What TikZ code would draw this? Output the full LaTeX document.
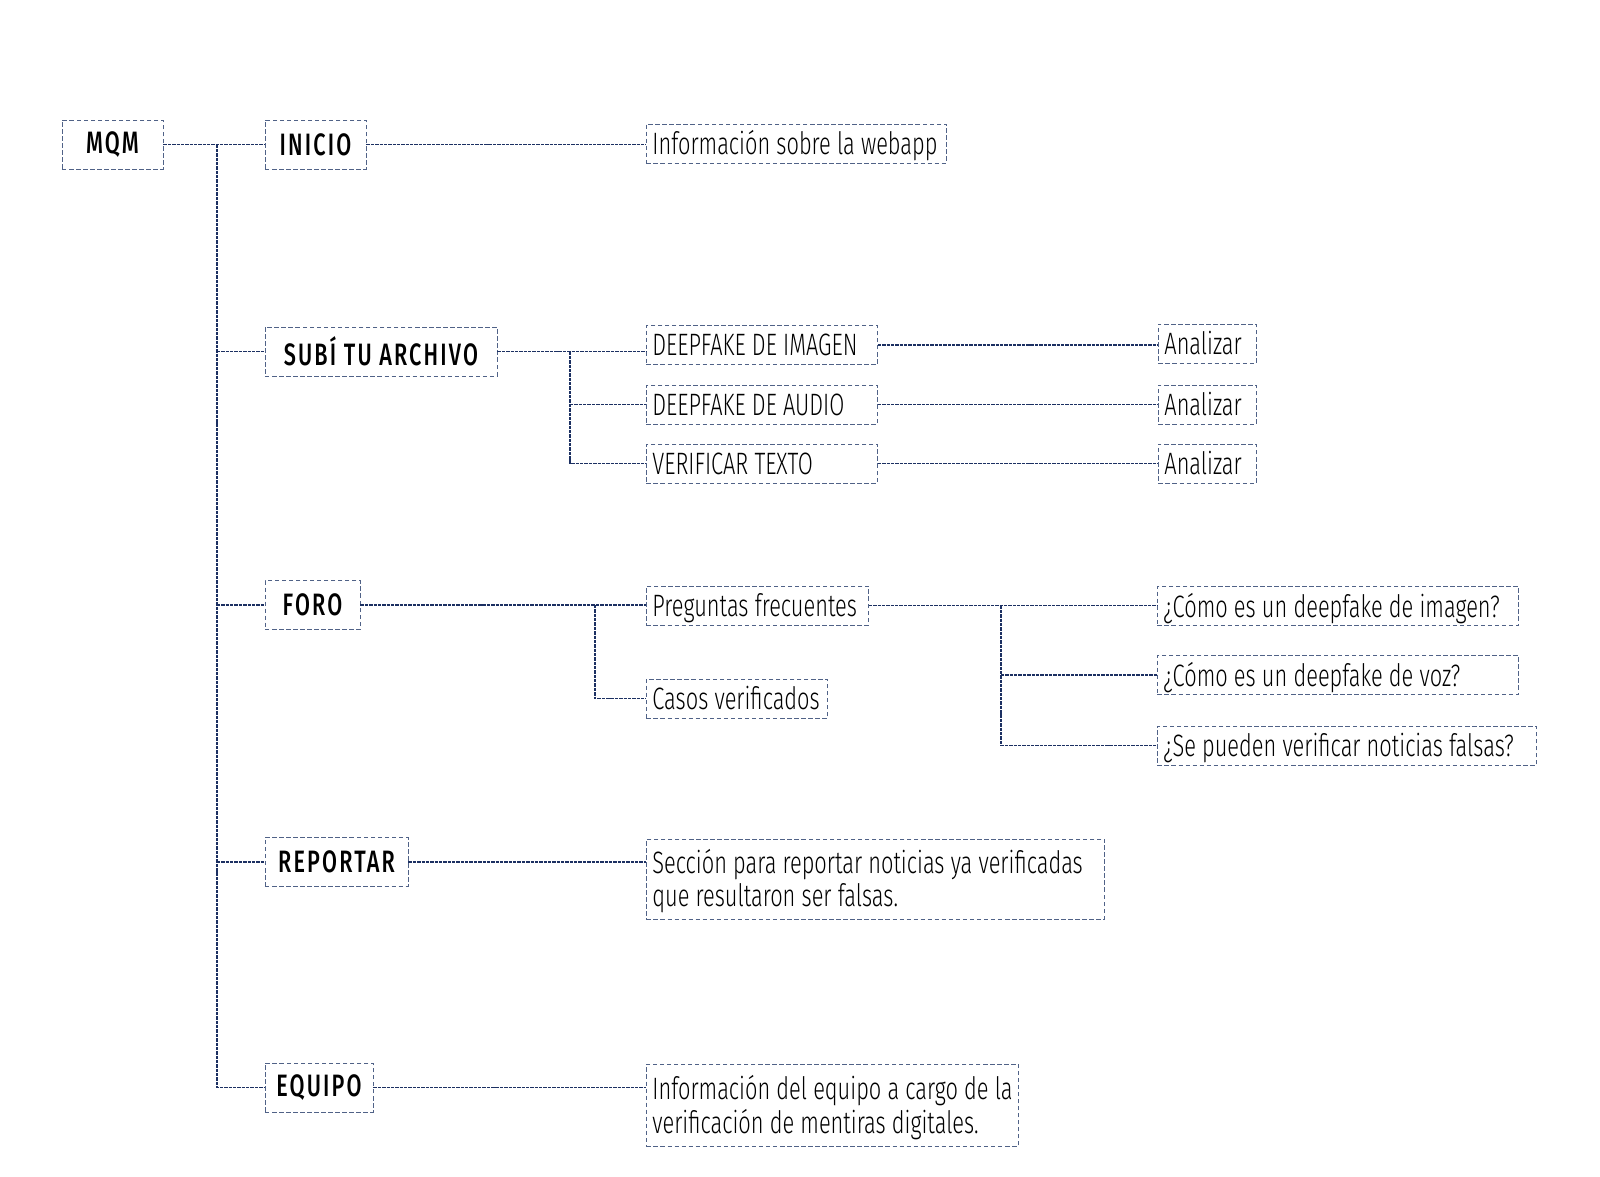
\documentclass[tikz,border=0pt]{standalone}
\usepackage{fontspec}
\setmainfont{Fira Sans Light}[FakeStretch=0.705]
\newfontfamily\topfont{Fira Sans Medium}[FakeStretch=0.7,LetterSpace=7]
\usetikzlibrary{positioning,calc}
\definecolor{boxline}{RGB}{80,98,135}
\definecolor{wire}{RGB}{28,48,98}
\newcommand{\lns}[1]{\spaceskip=4.4pt\relax\raisebox{-2.8pt}[\height][\depth]{\begin{tabular}{@{}l@{}}#1\end{tabular}}}

\begin{document}
\begin{tikzpicture}[x=0.025cm, y=-0.025cm,
    top/.style={draw=boxline, line width=0.6pt, dash pattern=on 3.2pt off 1.8pt, rectangle, minimum height=1.225cm, align=center, inner sep=0pt, font=\topfont\fontsize{22}{24}\selectfont},
    leaf/.style={draw=boxline, line width=0.6pt, dash pattern=on 3.2pt off 1.8pt, rectangle, anchor=west, minimum height=0.975cm, text width=#1, inner xsep=0.15cm, inner ysep=0pt, font=\fontsize{22}{23.5}\selectfont},
    wireline/.style={draw=wire, line width=1.4pt, dash pattern=on 2.4pt off 0.7pt}]
    \useasboundingbox (0,0) rectangle (1600,1177);
    % Root and first level
    \node[top, minimum width=2.525cm] (mqm) at (112.5, 144.5) {MQM};
    \node[top, minimum width=2.525cm] (inicio) at (315.5, 144.5) {INICIO};
    \node[top, minimum width=5.8cm] (subi) at (381, 351.5) {SUBÍ TU ARCHIVO};
    \node[top, minimum width=2.375cm] (foro) at (312.5, 605) {FORO};
    \node[top, minimum width=3.575cm] (reportar) at (336.5, 862) {REPORTAR};
    \node[top, minimum width=2.7cm] (equipo) at (319, 1087.5) {EQUIPO};
    % Inicio
    \node[leaf=7.2cm] (info_web) at (646, 143.5) {\lns{Información sobre la webapp}};
    % Subi tu archivo
    \node[leaf=5.475cm] (df_img) at (646, 345) {\lns{DEEPFAKE DE IMAGEN}};
    \node[leaf=5.475cm] (df_aud) at (646, 404.5) {\lns{DEEPFAKE DE AUDIO}};
    \node[leaf=5.475cm] (ver_txt) at (646, 463.5) {\lns{VERIFICAR TEXTO}};
    \node[leaf=2.15cm] (an_img) at (1158, 343.5) {\lns{Analizar}};
    \node[leaf=2.15cm] (an_aud) at (1158, 404.5) {\lns{Analizar}};
    \node[leaf=2.15cm] (an_txt) at (1158, 463.5) {\lns{Analizar}};
    % Foro
    \node[leaf=5.25cm] (preg) at (646, 605.5) {\lns{Preguntas frecuentes}};
    \node[leaf=4.225cm] (casos) at (646, 698.5) {\lns{Casos verificados}};
    \node[leaf=8.725cm] (q_img) at (1157, 606) {\lns{¿Cómo es un deepfake de imagen?}};
    \node[leaf=8.725cm] (q_voz) at (1157, 675) {\lns{¿Cómo es un deepfake de voz?}};
    \node[leaf=9.175cm] (q_fake) at (1157, 745.5) {\lns{¿Se pueden verificar noticias falsas?}};
    % Reportar y equipo
    \node[leaf=11.15cm, minimum height=2cm] (rep_txt) at (646, 879) {\lns{Sección para reportar noticias ya verificadas\\que resultaron ser falsas.}};
    \node[leaf=9.0cm, minimum height=2.05cm] (eq_txt) at (646, 1105) {\lns{Información del equipo a cargo de la\\verificación de mentiras digitales.}};
    % Junctions
    \coordinate (trunk) at (217, 0);
    \coordinate (j_subi) at (570, 0);
    \coordinate (j_foro) at (595, 0);
    \coordinate (j_preg) at (1001, 0);
    % Connecting lines
    \draw[wireline] (mqm) -- (inicio);
    \draw[wireline] (trunk |- mqm) -- (trunk |- equipo) -- (equipo);
    \draw[wireline] (trunk |- subi) -- (subi);
    \draw[wireline] (trunk |- foro) -- (foro);
    \draw[wireline] (trunk |- reportar) -- (reportar);
    \draw[wireline] (inicio) -- (inicio.east -| info_web.west);
    \draw[wireline] (subi) -- (subi.east -| df_img.west);
    \draw[wireline] (j_subi |- subi) -- (j_subi |- ver_txt) -- (ver_txt);
    \draw[wireline] (j_subi |- df_aud) -- (df_aud);
    \draw[wireline] (df_img) -- (df_img.east -| an_img.west);
    \draw[wireline] (df_aud) -- (an_aud);
    \draw[wireline] (ver_txt) -- (an_txt);
    \draw[wireline] (foro) -- (foro.east -| preg.west);
    \draw[wireline] (j_foro |- foro) -- (j_foro |- casos) -- (casos);
    \draw[wireline] (preg) -- (preg.east -| q_img.west);
    \draw[wireline] (j_preg |- preg) -- (j_preg |- q_fake) -- (q_fake);
    \draw[wireline] (j_preg |- q_voz) -- (q_voz);
    \draw[wireline] (reportar) -- (reportar.east -| rep_txt.west);
    \draw[wireline] (equipo) -- (equipo.east -| eq_txt.west);
\end{tikzpicture}
\end{document}
